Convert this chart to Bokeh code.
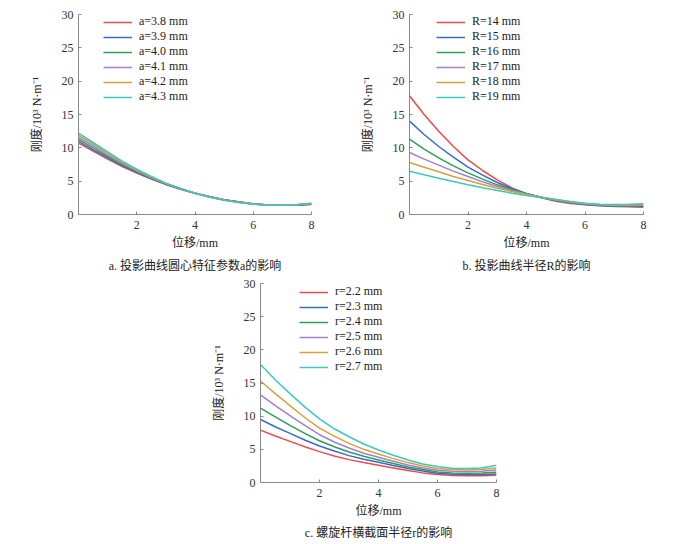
from bokeh.plotting import figure
from bokeh.models import Range1d, Legend, LegendItem, Title, FixedTicker, Spacer
from bokeh.layouts import column, row
from bokeh.embed import file_html
from bokeh.resources import INLINE

# ---------------- data ----------------
x_mm = [0, 0.5, 1, 1.5, 2, 2.5, 3, 3.5, 4, 4.5, 5, 5.5, 6, 6.5, 7, 7.5, 8]

# panel a: projection-curve centre parameter a
a_labels = ["a=3.8 mm", "a=3.9 mm", "a=4.0 mm", "a=4.1 mm", "a=4.2 mm", "a=4.3 mm"]
a_38 = [10.7, 9.5, 8.3, 7.2, 6.2, 5.3, 4.5, 3.8, 3.2, 2.7, 2.22, 1.9, 1.6, 1.45, 1.4, 1.4, 1.5]
a_39 = [11.0, 9.7, 8.5, 7.35, 6.3, 5.4, 4.55, 3.82, 3.2, 2.68, 2.2, 1.88, 1.59, 1.44, 1.4, 1.42, 1.54]
a_40 = [11.3, 10.0, 8.7, 7.5, 6.4, 5.45, 4.6, 3.85, 3.2, 2.66, 2.19, 1.86, 1.58, 1.43, 1.4, 1.44, 1.58]
a_41 = [11.6, 10.3, 8.95, 7.7, 6.55, 5.55, 4.63, 3.87, 3.2, 2.64, 2.18, 1.84, 1.57, 1.42, 1.4, 1.46, 1.62]
a_42 = [11.9, 10.55, 9.2, 7.85, 6.7, 5.63, 4.67, 3.89, 3.2, 2.62, 2.16, 1.82, 1.56, 1.41, 1.4, 1.48, 1.66]
a_43 = [12.2, 10.8, 9.4, 8.0, 6.8, 5.7, 4.7, 3.9, 3.2, 2.6, 2.15, 1.8, 1.55, 1.4, 1.4, 1.5, 1.7]

# panel b: projection-curve radius R
R_labels = ["R=14 mm", "R=15 mm", "R=16 mm", "R=17 mm", "R=18 mm", "R=19 mm"]
R_14 = [17.8, 15.0, 12.5, 10.2, 8.2, 6.6, 5.2, 4.0, 3.1, 2.5, 2.0, 1.65, 1.45, 1.3, 1.2, 1.15, 1.1]
R_15 = [14.0, 12.0, 10.2, 8.6, 7.1, 5.9, 4.8, 3.9, 3.15, 2.6, 2.1, 1.75, 1.5, 1.35, 1.25, 1.22, 1.2]
R_16 = [11.3, 9.8, 8.5, 7.3, 6.25, 5.3, 4.45, 3.75, 3.1, 2.6, 2.15, 1.8, 1.55, 1.4, 1.3, 1.3, 1.3]
R_17 = [9.3, 8.3, 7.4, 6.5, 5.7, 4.9, 4.2, 3.6, 3.05, 2.6, 2.2, 1.85, 1.6, 1.45, 1.35, 1.35, 1.4]
R_18 = [7.8, 7.1, 6.4, 5.7, 5.1, 4.5, 3.95, 3.45, 3.0, 2.6, 2.2, 1.9, 1.65, 1.5, 1.42, 1.42, 1.5]
R_19 = [6.5, 5.95, 5.45, 4.95, 4.45, 4.0, 3.6, 3.2, 2.85, 2.55, 2.25, 1.95, 1.7, 1.55, 1.5, 1.52, 1.6]

# panel c: screw-rod cross-section radius r
r_labels = ["r=2.2 mm", "r=2.3 mm", "r=2.4 mm", "r=2.5 mm", "r=2.6 mm", "r=2.7 mm"]
r_22 = [7.9, 7.0, 6.2, 5.4, 4.65, 4.0, 3.45, 3.0, 2.6, 2.2, 1.8, 1.45, 1.2, 1.05, 1.0, 1.02, 1.1]
r_23 = [9.5, 8.4, 7.4, 6.4, 5.5, 4.75, 4.05, 3.5, 3.05, 2.55, 2.1, 1.75, 1.4, 1.25, 1.2, 1.22, 1.3]
r_24 = [11.2, 9.9, 8.6, 7.4, 6.3, 5.4, 4.6, 3.95, 3.4, 2.85, 2.35, 1.95, 1.6, 1.45, 1.4, 1.42, 1.55]
r_25 = [13.2, 11.6, 10.1, 8.6, 7.2, 6.1, 5.2, 4.4, 3.8, 3.2, 2.65, 2.2, 1.85, 1.7, 1.65, 1.7, 1.9]
r_26 = [15.3, 13.4, 11.6, 9.8, 8.2, 7.0, 5.9, 5.0, 4.3, 3.6, 3.0, 2.5, 2.1, 1.95, 1.9, 1.95, 2.2]
r_27 = [17.8, 15.5, 13.4, 11.4, 9.6, 8.1, 6.9, 5.8, 4.9, 4.1, 3.4, 2.8, 2.4, 2.15, 2.1, 2.2, 2.6]

x_ticks = [2, 4, 6, 8]
y_ticks = [0, 5, 10, 15, 20, 25, 30]
x_label = "位移/mm"
y_label = "刚度/10³ N·m⁻¹"
captions = ["a. 投影曲线圆心特征参数a的影响", "b. 投影曲线半径R的影响", "c. 螺旋杆横截面半径r的影响"]

colors = ["#EE4B4B", "#3A6BC4", "#2E9E5B", "#A67FCB", "#D4A23A", "#3CC8C0"]

SERIF = "'Liberation Serif', 'Noto Sans CJK SC'"


def make_panel(series, labels, caption, frame_h, mb_left, frame_w, mb_right,
               mb_top, mb_bottom, leg_loc, cap_standoff):
    p = figure(frame_width=frame_w, frame_height=frame_h,
               min_border_left=mb_left, min_border_right=mb_right,
               min_border_top=mb_top, min_border_bottom=mb_bottom,
               x_range=Range1d(0, 8), y_range=Range1d(0, 30),
               output_backend="svg", toolbar_location=None,
               x_axis_label=x_label, y_axis_label=y_label)
    p.grid.visible = False
    p.outline_line_color = None
    p.background_fill_color = "white"
    p.border_fill_color = "white"
    p.xaxis.ticker = FixedTicker(ticks=x_ticks)
    p.yaxis.ticker = FixedTicker(ticks=y_ticks)
    for ax in (p.xaxis, p.yaxis):
        ax.axis_line_color = "#8a8a8a"
        ax.axis_line_width = 1
        ax.major_tick_line_color = "#8a8a8a"
        ax.major_tick_in = 3
        ax.major_tick_out = 0
        ax.minor_tick_line_color = None
        ax.major_label_text_font = SERIF
        ax.major_label_text_font_size = "12px"
        ax.major_label_text_color = "#333333"
        ax.axis_label_text_font = SERIF
        ax.axis_label_text_font_size = "12px"
        ax.axis_label_text_font_style = "normal"
        ax.axis_label_text_color = "#222222"
    p.xaxis.major_label_standoff = 6
    p.xaxis.axis_label_standoff = 4
    p.yaxis.major_label_standoff = 5
    p.yaxis.axis_label_standoff = 15

    items = []
    for ys, lab, c in zip(series, labels, colors):
        r = p.line(x_mm, ys, line_color=c, line_width=1.5)
        items.append(LegendItem(label=lab, renderers=[r]))
    leg = Legend(items=items, location=leg_loc, padding=0, margin=0, spacing=0,
                 glyph_width=29, glyph_height=14, label_height=14,
                 label_standoff=7, border_line_color=None,
                 background_fill_alpha=0,
                 label_text_font=SERIF, label_text_font_size="12px",
                 label_text_line_height=1.0,
                 label_text_color="#222222")
    p.add_layout(leg)

    cap = Title(text=caption, align="center", text_font=SERIF,
                text_font_size="12px", text_font_style="normal",
                text_color="#222222", standoff=cap_standoff)
    p.add_layout(cap, "below")
    return p


pa = make_panel([a_38, a_39, a_40, a_41, a_42, a_43], a_labels, captions[0],
                200, 78, 233, 29, 14, 62, (25, 110), 8)
pb = make_panel([R_14, R_15, R_16, R_17, R_18, R_19], R_labels, captions[1],
                200, 69, 234, 42, 14, 62, (27, 110), 8)
pc = make_panel([r_22, r_23, r_24, r_25, r_26, r_27], r_labels, captions[2],
                199, 70, 236, 40, 7, 60, (39, 108), 6)

layout = column(row(pa, pb), row(Spacer(width=190, height=266), pc))

open("out.html", "w").write(file_html(layout, INLINE))
